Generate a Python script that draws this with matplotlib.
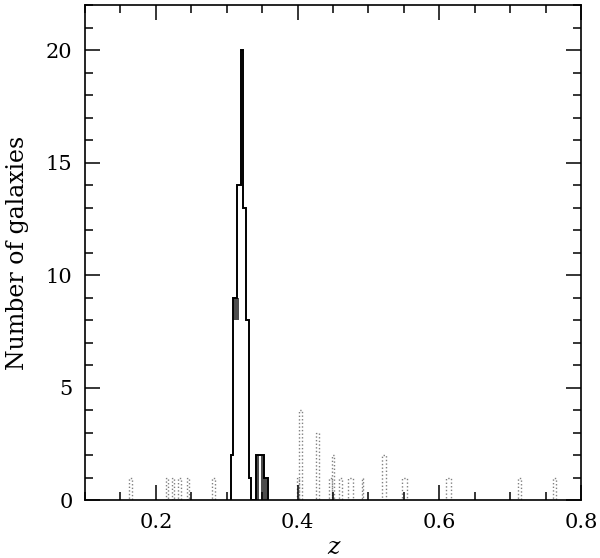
import numpy as np
import matplotlib
matplotlib.use("Agg")
import matplotlib.pyplot as plt
from matplotlib.ticker import MultipleLocator

# cluster members (solid histogram)
clu_edges = [0.3065, 0.3095, 0.3151, 0.3206, 0.3233, 0.3275, 0.3314, 0.3338,
             0.3418, 0.3522, 0.3587]
clu_counts = [2, 9, 14, 20, 13, 8, 1, 0, 2, 1]

# densely packed parts of the member histogram (drawn dark)
dense_left = [0.3092, 0.3418, 0.3484, 0.3530]
dense_right = [0.3180, 0.3460, 0.3522, 0.3570]
dense_bottom = [8, 0, 0, 0]
dense_top = [9, 2, 2, 1]

# field galaxies (dotted histogram)
bg_left = [0.1625, 0.2138, 0.2223, 0.2317, 0.2435, 0.2797, 0.3995, 0.4025,
           0.4256, 0.4448, 0.4481, 0.4589, 0.4716, 0.4905, 0.5187, 0.5469,
           0.6094, 0.7115, 0.7600]
bg_right = [0.1659, 0.2176, 0.2256, 0.2349, 0.2472, 0.2835, 0.4025, 0.4067,
            0.4302, 0.4481, 0.4514, 0.4627, 0.4778, 0.4928, 0.5248, 0.5540,
            0.6165, 0.7149, 0.7647]
bg_counts = [1, 1, 1, 1, 1, 1, 1, 4, 3, 1, 2, 1, 1, 1, 2, 1, 1, 1, 1]


def main():
    plt.rcParams['font.family'] = ['DejaVu Serif']
    fig = plt.figure(figsize=(6.0, 5.58), dpi=100)
    ax = fig.add_axes([0.1417, 0.1039, 0.8266, 0.8871])

    left = np.array(bg_left)
    width = np.array(bg_right) - left
    ax.bar(left, bg_counts, width=width, align='edge', fill=False,
           edgecolor='0.5', linestyle=(0, (1, 1.6)), linewidth=1.0)

    dl = np.array(dense_left)
    ax.bar(dl, np.array(dense_top) - np.array(dense_bottom),
           width=np.array(dense_right) - dl, bottom=dense_bottom,
           align='edge', color='0.3', linewidth=0)

    ax.stairs(clu_counts, clu_edges, color='black', linewidth=1.4)

    ax.set_xlim(0.1, 0.8)
    ax.set_ylim(0, 22)
    ax.xaxis.set_major_locator(MultipleLocator(0.2))
    ax.xaxis.set_minor_locator(MultipleLocator(0.05))
    ax.yaxis.set_major_locator(MultipleLocator(5))
    ax.yaxis.set_minor_locator(MultipleLocator(1))
    ax.xaxis.set_major_formatter(plt.FuncFormatter(lambda v, p: '0' if abs(v) < 1e-9 else f'{v:.1f}'))
    ax.tick_params(which='both', direction='in', top=True, right=True,
                   labelsize=15, width=1.1)
    ax.tick_params(which='major', length=11, pad=9)
    ax.tick_params(which='minor', length=5.5)
    for s in ax.spines.values():
        s.set_linewidth(1.2)

    ax.set_xlabel('z', fontsize=17, style='italic', labelpad=3)
    ax.set_ylabel('Number of galaxies', fontsize=17, labelpad=12)

    fig.savefig('out.png', dpi=100)


if __name__ == '__main__':
    main()
